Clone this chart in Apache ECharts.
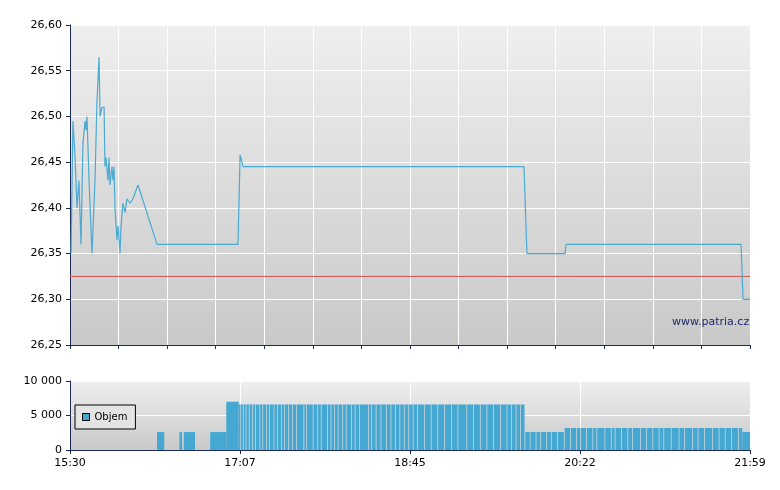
<!DOCTYPE html>
<html><head><meta charset="utf-8">
<script src="https://cdn.jsdelivr.net/npm/echarts@6/dist/echarts.min.js"></script>
<style>html,body{margin:0;padding:0;background:#fff}#c{width:780px;height:490px}</style>
</head><body><div id="c"></div>
<script>
// time in minutes after 15:30
const priceTimes = [0.6,1.7,2.9,4.0,5.1,6.3,7.4,8.6,9.2,9.7,10.9,12.6,14.3,15.4,16.6,17.2,18.3,19.5,20.0,20.6,21.7,22.3,22.9,24.0,24.6,25.2,25.7,26.9,27.5,28.6,29.2,30.3,31.5,32.6,34.3,36.0,38.9,49.8,96.1,97.3,98.4,99.0,259.7,261.4,283.2,283.8,383.9,385.0,389];
const priceValues = [26.35,26.495,26.455,26.40,26.43,26.36,26.47,26.495,26.485,26.50,26.43,26.35,26.43,26.515,26.565,26.50,26.51,26.51,26.445,26.455,26.43,26.455,26.425,26.445,26.43,26.445,26.40,26.365,26.38,26.35,26.38,26.405,26.395,26.41,26.405,26.41,26.425,26.36,26.36,26.458,26.458,26.445,26.445,26.35,26.35,26.36,26.36,26.30,26.30];
const refPrice = 26.325;
// volume segments: [start minute, end minute, volume]
const volSegs = [[49.8,53.9,2600],[62.6,64.1,2600],[65.1,71.5,2600],[80.2,89.4,2600],[89.4,96.5,7000],[96.5,260,6600],[260.5,282.5,2600],[283,384.6,3200],[384.6,389,2600]];
const volGaps = [97.5,99,100.5,102.3,104.3,105.9,108.4,110.1,112.2,113.9,116.5,118.5,120.9,122.6,124.9,127,129.3,133.6,135.1,138.9,141.5,143.5,147.1,149.1,151.2,153.2,155.8,157.8,160.9,162.9,165.5,170.6,172.4,174.9,177.7,180.8,183.4,185.9,188.5,191,193.6,196.1,198.7,202.5,206.4,210.2,214,218.1,221.7,226.8,230.6,234.5,238.3,242.1,246,249.8,252.4,255,257.5,263,266.4,268.9,272.5,275.1,278.7,286.2,289.5,291.8,295.3,298.9,301.2,305.8,309.4,311.6,315.2,318.9,321.5,326.1,329.7,333.2,336.8,339.5,343.7,348.2,351.4,355.9,359.1,362.8,367.3,371.1,374.6,378.3,382.2];
const timeLabels = ['15:30','17:07','18:45','20:22','21:59'];
const priceTicks = [26.25,26.60,0.05];
const volTicks = [0,10000,5000];

const TOTAL = 389;
const navy = '#1a2a5a';
const bg = {type:'linear',x:0,y:0,x2:0,y2:1,colorStops:[{offset:0,color:'#efefef'},{offset:1,color:'#c9c9c9'}]};
const labelOf = v => { const i = Math.round(v/(TOTAL/4)); return Math.abs(v - i*TOTAL/4) < 0.5 ? timeLabels[i] : ''; };
const segVal = t => { const s = volSegs.find(s=>t>=s[0]&&t<=s[1]); return s ? s[2] : 0; };
const chart = echarts.init(document.getElementById('c'));
chart.setOption({
  animation:false,
  grid:[
    {left:70,right:30,top:25,height:320,show:true,backgroundColor:bg,borderWidth:0},
    {left:70,right:30,top:381,height:69,show:true,backgroundColor:bg,borderWidth:0}
  ],
  legend:{data:['Objem'],left:75,top:405,orient:'vertical',padding:[7,8,7,7],
    borderColor:'#000',borderWidth:1,backgroundColor:'#e4e4e4',borderRadius:0,
    itemWidth:7,itemHeight:7,itemGap:4,textStyle:{fontSize:10,color:'#000',fontFamily:'DejaVu Sans'},
    icon:'rect',itemStyle:{borderColor:'#000',borderWidth:1}},
  xAxis:[
    {type:'value',gridIndex:0,min:0,max:TOTAL,interval:TOTAL/14,
      axisLine:{lineStyle:{color:navy}},axisTick:{show:true,length:4,lineStyle:{color:navy}},
      axisLabel:{show:false},splitLine:{lineStyle:{color:'#fff',width:1}}},
    {type:'value',gridIndex:1,min:0,max:TOTAL,interval:TOTAL/4,
      axisLine:{lineStyle:{color:navy}},axisTick:{show:true,length:4,lineStyle:{color:navy}},
      axisLabel:{color:'#000',fontSize:11,fontFamily:'DejaVu Sans',formatter:labelOf},
      splitLine:{lineStyle:{color:'#fff',width:1}}}
  ],
  yAxis:[
    {type:'value',gridIndex:0,min:priceTicks[0],max:priceTicks[1],interval:priceTicks[2],
      axisLine:{show:true,lineStyle:{color:navy}},axisTick:{show:true,length:4,lineStyle:{color:navy}},
      axisLabel:{color:'#000',fontSize:11,fontFamily:'DejaVu Sans',formatter:v=>v.toFixed(2).replace('.',',')},
      splitLine:{lineStyle:{color:'#fff',width:1}}},
    {type:'value',gridIndex:1,min:volTicks[0],max:volTicks[1],interval:volTicks[2],
      axisLine:{show:true,lineStyle:{color:navy}},axisTick:{show:true,length:4,lineStyle:{color:navy}},
      axisLabel:{color:'#000',fontSize:11,fontFamily:'DejaVu Sans',formatter:v=>v>=1000?String(v).replace(/\B(?=(\d{3})+(?!\d))/g,' '):String(v)},
      splitLine:{lineStyle:{color:'#fff',width:1}}}
  ],
  series:[
    {type:'line',xAxisIndex:0,yAxisIndex:0,data:[[0,refPrice],[TOTAL,refPrice]],
      symbol:'none',silent:true,lineStyle:{color:'#d9534f',width:1}},
    {type:'line',xAxisIndex:0,yAxisIndex:0,data:priceTimes.map((t,i)=>[t,priceValues[i]]),
      symbol:'none',lineStyle:{color:'#4aaad2',width:1.2}},
    {type:'custom',name:'Objem',xAxisIndex:1,yAxisIndex:1,data:volSegs,
      itemStyle:{color:'#45a8d2'},
      renderItem:(p,api)=>{const a=api.coord([api.value(0),api.value(2)]),b=api.coord([api.value(1),0]);
        return {type:'rect',shape:{x:a[0],y:a[1],width:b[0]-a[0],height:b[1]-a[1]},style:{fill:'#45a8d2'}};}},
    {type:'custom',xAxisIndex:1,yAxisIndex:1,data:volGaps.map(g=>[g,segVal(g)]),silent:true,
      renderItem:(p,api)=>{const a=api.coord([api.value(0),api.value(1)]),b=api.coord([api.value(0),0]);
        return {type:'rect',shape:{x:a[0],y:a[1],width:0.7,height:b[1]-a[1]},style:{fill:'#dcdcdc'}};}}
  ],
  graphic:[{type:'text',left:672,top:317,style:{text:'www.patria.cz',fontSize:11,fill:'#1a2a6a',fontFamily:'DejaVu Sans'}}]
});
</script></body></html>
